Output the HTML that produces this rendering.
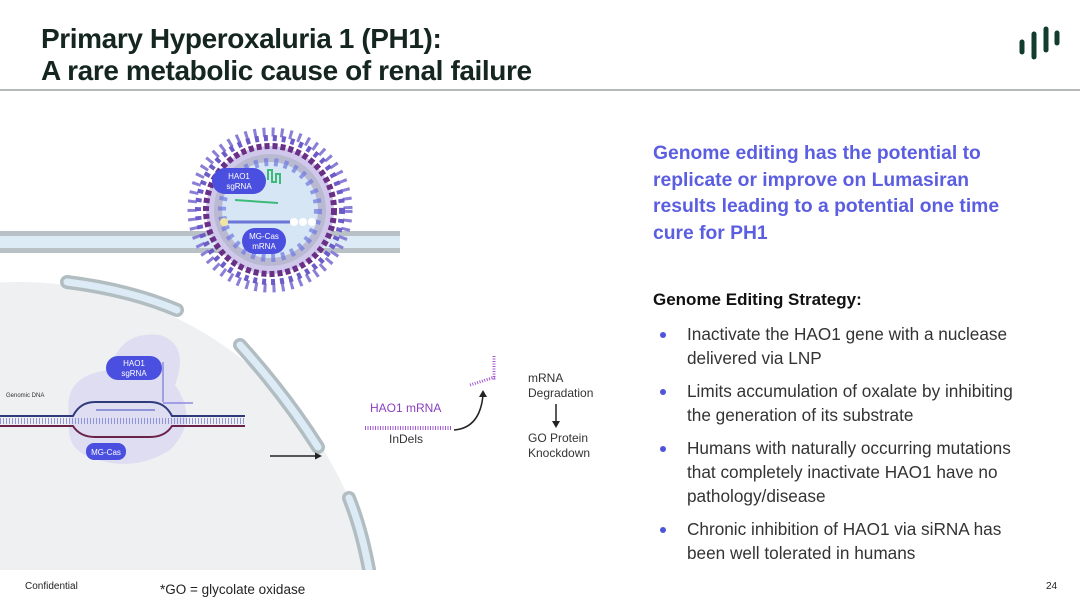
<!DOCTYPE html>
<html><head><meta charset="utf-8"><style>
html,body{margin:0;padding:0;background:#fff;overflow:hidden;width:1080px;height:610px;}
body{position:relative;font-family:"Liberation Sans",sans-serif;}
.t{position:absolute;left:41px;top:23px;font-size:28px;font-weight:bold;color:#14261f;line-height:32px;letter-spacing:-0.4px;}
.hr{position:absolute;left:0;top:89px;width:1080px;height:2px;background:#b5b9b8;}
.blue{position:absolute;left:653px;top:141px;font-size:19.3px;font-weight:bold;color:#5b5ee0;line-height:26.5px;}
.gs{position:absolute;left:653px;top:290px;font-size:17px;font-weight:bold;color:#111;}
ul{position:absolute;left:653px;top:322px;margin:0;padding:0;list-style:none;width:427px;}
li{position:relative;padding-left:34px;font-size:17.2px;color:#333;line-height:24px;margin-bottom:9px;white-space:nowrap;}
li:before{content:"";position:absolute;left:7px;top:10px;width:6px;height:6px;border-radius:50%;background:#4f55d8;}
.f1{position:absolute;left:25px;top:581px;font-size:10px;color:#222;}
.f2{position:absolute;left:160px;top:582px;font-size:13.5px;color:#222;}
.f3{position:absolute;left:1046px;top:581px;font-size:10px;color:#222;}
</style></head><body>
<svg width="1080" height="610" style="position:absolute;left:0;top:0">
<defs><clipPath id="c"><rect x="0" y="92" width="400" height="478"/></clipPath></defs>
<g clip-path="url(#c)">
<circle cx="20" cy="640" r="358" fill="#eef0f1"/>
<rect x="0" y="233" width="400" height="17" fill="#dcebf5"/>
<rect x="0" y="231" width="400" height="5" fill="#b7c1c6"/>
<rect x="0" y="248" width="400" height="5" fill="#b7c1c6"/>
<g stroke="#b2bdc2" stroke-width="14" stroke-linecap="round" fill="none"><path d="M67 282 Q130 290 177 310"/><path d="M240 345 Q285 395 318 447"/><path d="M349 498 Q362 530 370 575"/></g>
<g stroke="#dcebf5" stroke-width="7" stroke-linecap="round" fill="none"><path d="M67 282 Q130 290 177 310"/><path d="M240 345 Q285 395 318 447"/><path d="M349 498 Q362 530 370 575"/></g>
<circle cx="270" cy="210" r="78" fill="none" stroke="#8a7fd6" stroke-width="9" stroke-dasharray="3 6"/>
<circle cx="270" cy="210" r="72" fill="none" stroke="#6d5bc8" stroke-width="6" stroke-dasharray="4 5"/>
<circle cx="270" cy="210" r="64" fill="#cfc8ea"/>
<circle cx="270" cy="210" r="64" fill="none" stroke="#6a2f86" stroke-width="6" stroke-dasharray="5 3"/>
<circle cx="270" cy="210" r="56" fill="#b9b9d2"/>
<circle cx="270" cy="210" r="48" fill="#d6e6f5"/>
<circle cx="270" cy="210" r="48" fill="none" stroke="#6e78e0" stroke-width="8" stroke-dasharray="4 6" opacity=".7"/>
<rect x="212" y="168" width="54" height="26" rx="13" fill="#4a4fe0"/>
<text x="239" y="179" font-size="8" fill="#fff" text-anchor="middle">HAO1</text>
<text x="239" y="189" font-size="8" fill="#fff" text-anchor="middle">sgRNA</text>
<path d="M268 180 v-10 h4 v12 h4 v-8 h4 v10" stroke="#3cba7a" stroke-width="2" fill="none"/>
<line x1="235" y1="200" x2="278" y2="203" stroke="#3cba7a" stroke-width="2"/>
<line x1="224" y1="222" x2="290" y2="222" stroke="#6b76d8" stroke-width="3"/>
<circle cx="224" cy="222" r="4" fill="#f0e6a0"/>
<circle cx="294" cy="222" r="4" fill="#fff"/><circle cx="303" cy="222" r="4" fill="#fff"/><circle cx="312" cy="222" r="4" fill="#fff"/>
<rect x="242" y="228" width="44" height="26" rx="13" fill="#4a4fe0"/>
<text x="264" y="239" font-size="8" fill="#fff" text-anchor="middle">MG-Cas</text>
<text x="264" y="249" font-size="8" fill="#fff" text-anchor="middle">mRNA</text>
<path d="M70 420 Q60 375 110 370 Q120 330 160 335 Q190 345 175 385 Q200 420 170 450 Q130 475 85 455 Q65 445 70 420Z" fill="#d9d8f2" opacity=".8"/>
<rect x="106" y="356" width="56" height="24" rx="12" fill="#4a4fe0"/>
<text x="134" y="366" font-size="8" fill="#fff" text-anchor="middle">HAO1</text>
<text x="134" y="376" font-size="8" fill="#fff" text-anchor="middle">sgRNA</text>
<path d="M163 362 v40 M163 403 h30" stroke="#8d8ae0" stroke-width="1.5" fill="none"/>
<rect x="86" y="443" width="40" height="17" rx="8" fill="#4a4fe0"/>
<text x="106" y="455" font-size="8" fill="#fff" text-anchor="middle">MG-Cas</text>
<text x="6" y="397" font-size="6" fill="#333">Genomic DNA</text>
<path d="M0 416 H73 Q80 402 95 402 H150 Q165 402 172 416 H245" stroke="#2f3a7a" stroke-width="2" fill="none"/>
<path d="M0 426 H73 Q80 437 95 437 H150 Q165 437 172 426 H245" stroke="#6a2248" stroke-width="2" fill="none"/>
<line x1="0" y1="421" x2="245" y2="421" stroke="#8f95d8" stroke-width="6" stroke-dasharray="1 2"/>
<line x1="96" y1="410" x2="155" y2="410" stroke="#8f95d8" stroke-width="2"/>
<line x1="270" y1="456" x2="318" y2="456" stroke="#222" stroke-width="1.5"/>
<path d="M322 456 l-7 -3.5 v7z" fill="#222"/>
</g>
<text x="370" y="412" font-size="12" fill="#8b3fc0">HAO1 mRNA</text>
<line x1="365" y1="428" x2="451" y2="428" stroke="#a45ad0" stroke-width="4" stroke-dasharray="1 1.5"/>
<text x="389" y="443" font-size="12" fill="#333">InDels</text>
<path d="M454 430 Q480 428 483 395" stroke="#222" stroke-width="1.5" fill="none"/>
<path d="M483 390 l-4 7 h8z" fill="#222"/>
<path d="M470 385 l25 -8 M494 356 v25" stroke="#a45ad0" stroke-width="3" stroke-dasharray="1 1.5"/>
<text x="528" y="382" font-size="12" fill="#333">mRNA</text>
<text x="528" y="397" font-size="12" fill="#333">Degradation</text>
<line x1="556" y1="404" x2="556" y2="422" stroke="#222" stroke-width="1.5"/>
<path d="M556 428 l-4 -7 h8z" fill="#222"/>
<text x="528" y="442" font-size="12" fill="#333">GO Protein</text>
<text x="528" y="457" font-size="12" fill="#333">Knockdown</text>
<g stroke="#123c2e" stroke-width="5" stroke-linecap="round"><line x1="1022" y1="42" x2="1022" y2="52"/><line x1="1034" y1="34" x2="1034" y2="57"/><line x1="1046" y1="29" x2="1046" y2="50"/><line x1="1057" y1="33" x2="1057" y2="43"/></g>
</svg>
<div class="t">Primary Hyperoxaluria 1 (PH1):<br>A rare metabolic cause of renal failure</div>
<div class="hr"></div>
<div class="blue">Genome editing has the potential to<br>replicate or improve on Lumasiran<br>results leading to a potential one time<br>cure for PH1</div>
<div class="gs">Genome Editing Strategy:</div>
<ul>
<li>Inactivate the HAO1 gene with a nuclease<br>delivered via LNP</li>
<li>Limits accumulation of oxalate by inhibiting<br>the generation of its substrate</li>
<li>Humans with naturally occurring mutations<br>that completely inactivate HAO1 have no<br>pathology/disease</li>
<li>Chronic inhibition of HAO1 via siRNA has<br>been well tolerated in humans</li>
</ul>
<div class="f1">Confidential</div>
<div class="f2">*GO = glycolate oxidase</div>
<div class="f3">24</div>
</body></html>
